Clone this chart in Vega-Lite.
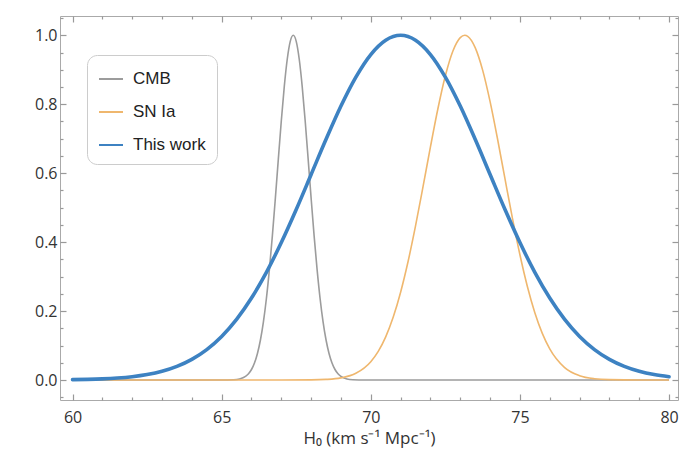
{
  "$schema": "https://vega.github.io/schema/vega-lite/v6.json",
  "width": 618,
  "height": 384,
  "autosize": {"type": "none"},
  "padding": {"left": 60, "top": 16, "right": 2, "bottom": 62},
  "background": "white",
  "config": {
    "view": {"stroke": "#aaaaaa", "strokeWidth": 1},
    "font": "Open Sans",
    "axis": {"grid": false, "domain": false, "labelColor": "#333333", "labelFontSize": 16, "labelFont": "Open Sans"}
  },
  "data": {"values": [
    {"s":"CMB","x":60,"y":0},{"s":"CMB","x":65,"y":0},{"s":"CMB","x":65.4,"y":0.0008},{"s":"CMB","x":65.6,"y":0.0031},
    {"s":"CMB","x":65.8,"y":0.0105},{"s":"CMB","x":65.9,"y":0.0182},{"s":"CMB","x":66.0,"y":0.0305},{"s":"CMB","x":66.1,"y":0.0494},
    {"s":"CMB","x":66.2,"y":0.0771},{"s":"CMB","x":66.3,"y":0.1160},{"s":"CMB","x":66.4,"y":0.1686},{"s":"CMB","x":66.5,"y":0.2365},
    {"s":"CMB","x":66.6,"y":0.3201},{"s":"CMB","x":66.7,"y":0.4180},{"s":"CMB","x":66.8,"y":0.5269},{"s":"CMB","x":66.9,"y":0.6408},
    {"s":"CMB","x":67.0,"y":0.7522},{"s":"CMB","x":67.1,"y":0.8520},{"s":"CMB","x":67.2,"y":0.9313},{"s":"CMB","x":67.3,"y":0.9824},
    {"s":"CMB","x":67.4,"y":1.0},{"s":"CMB","x":67.5,"y":0.9824},{"s":"CMB","x":67.6,"y":0.9313},{"s":"CMB","x":67.7,"y":0.8520},
    {"s":"CMB","x":67.8,"y":0.7522},{"s":"CMB","x":67.9,"y":0.6408},{"s":"CMB","x":68.0,"y":0.5269},{"s":"CMB","x":68.1,"y":0.4180},
    {"s":"CMB","x":68.2,"y":0.3201},{"s":"CMB","x":68.3,"y":0.2365},{"s":"CMB","x":68.4,"y":0.1686},{"s":"CMB","x":68.5,"y":0.1160},
    {"s":"CMB","x":68.6,"y":0.0771},{"s":"CMB","x":68.7,"y":0.0494},{"s":"CMB","x":68.8,"y":0.0305},{"s":"CMB","x":68.9,"y":0.0182},
    {"s":"CMB","x":69.0,"y":0.0105},{"s":"CMB","x":69.2,"y":0.0031},{"s":"CMB","x":69.4,"y":0.0008},{"s":"CMB","x":69.8,"y":0},
    {"s":"CMB","x":80,"y":0},
    {"s":"SN Ia","x":60,"y":0},{"s":"SN Ia","x":67,"y":0},{"s":"SN Ia","x":68,"y":0.0004},{"s":"SN Ia","x":68.5,"y":0.0017},
    {"s":"SN Ia","x":69,"y":0.0061},{"s":"SN Ia","x":69.5,"y":0.0194},{"s":"SN Ia","x":70,"y":0.0531},{"s":"SN Ia","x":70.25,"y":0.0831},
    {"s":"SN Ia","x":70.5,"y":0.1252},{"s":"SN Ia","x":70.75,"y":0.1819},{"s":"SN Ia","x":71,"y":0.2547},{"s":"SN Ia","x":71.25,"y":0.3437},
    {"s":"SN Ia","x":71.5,"y":0.4469},{"s":"SN Ia","x":71.75,"y":0.5600},{"s":"SN Ia","x":72,"y":0.6762},{"s":"SN Ia","x":72.25,"y":0.7869},
    {"s":"SN Ia","x":72.5,"y":0.8825},{"s":"SN Ia","x":72.75,"y":0.9538},{"s":"SN Ia","x":73,"y":0.9934},{"s":"SN Ia","x":73.15,"y":1.0},
    {"s":"SN Ia","x":73.25,"y":0.9971},{"s":"SN Ia","x":73.5,"y":0.9644},{"s":"SN Ia","x":73.75,"y":0.8990},{"s":"SN Ia","x":74,"y":0.8075},
    {"s":"SN Ia","x":74.25,"y":0.6991},{"s":"SN Ia","x":74.5,"y":0.5832},{"s":"SN Ia","x":74.75,"y":0.4689},{"s":"SN Ia","x":75,"y":0.3633},
    {"s":"SN Ia","x":75.25,"y":0.2713},{"s":"SN Ia","x":75.5,"y":0.1952},{"s":"SN Ia","x":75.75,"y":0.1353},{"s":"SN Ia","x":76,"y":0.0904},
    {"s":"SN Ia","x":76.5,"y":0.0361},{"s":"SN Ia","x":77,"y":0.0125},{"s":"SN Ia","x":77.5,"y":0.0037},{"s":"SN Ia","x":78,"y":0.0010},
    {"s":"SN Ia","x":79,"y":0},{"s":"SN Ia","x":80,"y":0},
    {"s":"This work","x":60,"y":0.0010},{"s":"This work","x":60.5,"y":0.0018},{"s":"This work","x":61,"y":0.0032},{"s":"This work","x":61.5,"y":0.0056},
    {"s":"This work","x":62,"y":0.0095},{"s":"This work","x":62.5,"y":0.0158},{"s":"This work","x":63,"y":0.0253},{"s":"This work","x":63.5,"y":0.0395},
    {"s":"This work","x":64,"y":0.0599},{"s":"This work","x":64.5,"y":0.0883},{"s":"This work","x":65,"y":0.1264},{"s":"This work","x":65.5,"y":0.1759},
    {"s":"This work","x":66,"y":0.2378},{"s":"This work","x":66.5,"y":0.3124},{"s":"This work","x":67,"y":0.3988},{"s":"This work","x":67.5,"y":0.4947},
    {"s":"This work","x":68,"y":0.5963},{"s":"This work","x":68.5,"y":0.6983},{"s":"This work","x":69,"y":0.7947},{"s":"This work","x":69.5,"y":0.8787},
    {"s":"This work","x":70,"y":0.9442},{"s":"This work","x":70.5,"y":0.9857},{"s":"This work","x":71,"y":1.0},{"s":"This work","x":71.5,"y":0.9857},
    {"s":"This work","x":72,"y":0.9442},{"s":"This work","x":72.5,"y":0.8787},{"s":"This work","x":73,"y":0.7947},{"s":"This work","x":73.5,"y":0.6983},
    {"s":"This work","x":74,"y":0.5963},{"s":"This work","x":74.5,"y":0.4947},{"s":"This work","x":75,"y":0.3988},{"s":"This work","x":75.5,"y":0.3124},
    {"s":"This work","x":76,"y":0.2378},{"s":"This work","x":76.5,"y":0.1759},{"s":"This work","x":77,"y":0.1264},{"s":"This work","x":77.5,"y":0.0883},
    {"s":"This work","x":78,"y":0.0599},{"s":"This work","x":78.5,"y":0.0395},{"s":"This work","x":79,"y":0.0253},{"s":"This work","x":79.5,"y":0.0158},
    {"s":"This work","x":80,"y":0.0095}
  ]},
  "resolve": {"axis": {"x": "independent", "y": "independent"}},
  "layer": [
    {
      "transform": [{"filter": "datum.s == 'CMB'"}],
      "mark": {"type": "line", "interpolate": "monotone", "strokeWidth": 1.6},
      "encoding": {
        "x": {"field": "x", "type": "quantitative",
              "scale": {"domain": [59.58, 80.3], "nice": false, "zero": false},
              "axis": {"orient": "bottom", "offset": -6, "values": [60, 65, 70, 75, 80], "tickSize": 6, "tickColor": "#999999", "tickWidth": 1.2, "labelPadding": 9,
                       "title": "H₀ (km s⁻¹ Mpc⁻¹)", "titleFontSize": 17, "titleFontWeight": "normal", "titleColor": "#333333", "titlePadding": 5}},
        "y": {"field": "y", "type": "quantitative",
              "scale": {"domain": [-0.058, 1.056], "nice": false, "zero": false},
              "axis": {"orient": "left", "offset": -6, "values": [0, 0.2, 0.4, 0.6, 0.8, 1.0], "format": ".1f", "tickSize": 6, "tickColor": "#999999", "tickWidth": 1.2, "labelPadding": 3, "title": null}},
        "color": {"field": "s", "type": "nominal",
                  "scale": {"domain": ["CMB", "SN Ia", "This work"], "range": ["#9c9c9c", "#efb76e", "#3d82c2"]},
                  "legend": {"title": null, "orient": "none", "legendX": 27, "legendY": 39,
                             "symbolType": "stroke", "symbolSize": 576, "symbolStrokeWidth": 2,
                             "labelFontSize": 17, "labelColor": "#222222", "labelFont": "Liberation Sans", "labelOffset": 9,
                             "rowPadding": 12, "padding": 11, "fillColor": "white", "strokeColor": "#cccccc", "cornerRadius": 10}}
      }
    },
    {
      "transform": [{"filter": "datum.s == 'SN Ia'"}],
      "mark": {"type": "line", "interpolate": "monotone", "strokeWidth": 1.6},
      "encoding": {
        "x": {"field": "x", "type": "quantitative",
              "axis": {"orient": "bottom", "offset": -3, "values": [61,62,63,64,66,67,68,69,71,72,73,74,76,77,78,79], "tickSize": 3, "tickColor": "#999999", "tickWidth": 1.2, "labels": false, "title": null}},
        "y": {"field": "y", "type": "quantitative",
              "axis": {"orient": "left", "offset": -3, "values": [-0.05,0.05,0.1,0.15,0.25,0.3,0.35,0.45,0.5,0.55,0.65,0.7,0.75,0.85,0.9,0.95,1.05], "tickSize": 3, "tickColor": "#999999", "tickWidth": 1.2, "labels": false, "title": null}},
        "color": {"field": "s", "type": "nominal"}
      }
    },
    {
      "transform": [{"filter": "datum.s == 'This work'"}],
      "mark": {"type": "line", "interpolate": "monotone", "strokeWidth": 3.6, "strokeCap": "round"},
      "encoding": {
        "x": {"field": "x", "type": "quantitative",
              "axis": {"orient": "top", "offset": -6, "values": [60, 65, 70, 75, 80], "tickSize": 6, "tickColor": "#999999", "tickWidth": 1.2, "labels": false, "title": null}},
        "y": {"field": "y", "type": "quantitative",
              "axis": {"orient": "right", "offset": -6, "values": [0, 0.2, 0.4, 0.6, 0.8, 1.0], "tickSize": 6, "tickColor": "#999999", "tickWidth": 1.2, "labels": false, "title": null}},
        "color": {"field": "s", "type": "nominal"}
      }
    },
    {
      "mark": {"type": "point", "opacity": 0},
      "encoding": {
        "x": {"field": "x", "type": "quantitative",
              "axis": {"orient": "top", "offset": -3, "values": [61,62,63,64,66,67,68,69,71,72,73,74,76,77,78,79], "tickSize": 3, "tickColor": "#999999", "tickWidth": 1.2, "labels": false, "title": null}},
        "y": {"field": "y", "type": "quantitative",
              "axis": {"orient": "right", "offset": -3, "values": [-0.05,0.05,0.1,0.15,0.25,0.3,0.35,0.45,0.5,0.55,0.65,0.7,0.75,0.85,0.9,0.95,1.05], "tickSize": 3, "tickColor": "#999999", "tickWidth": 1.2, "labels": false, "title": null}}
      }
    }
  ]
}
